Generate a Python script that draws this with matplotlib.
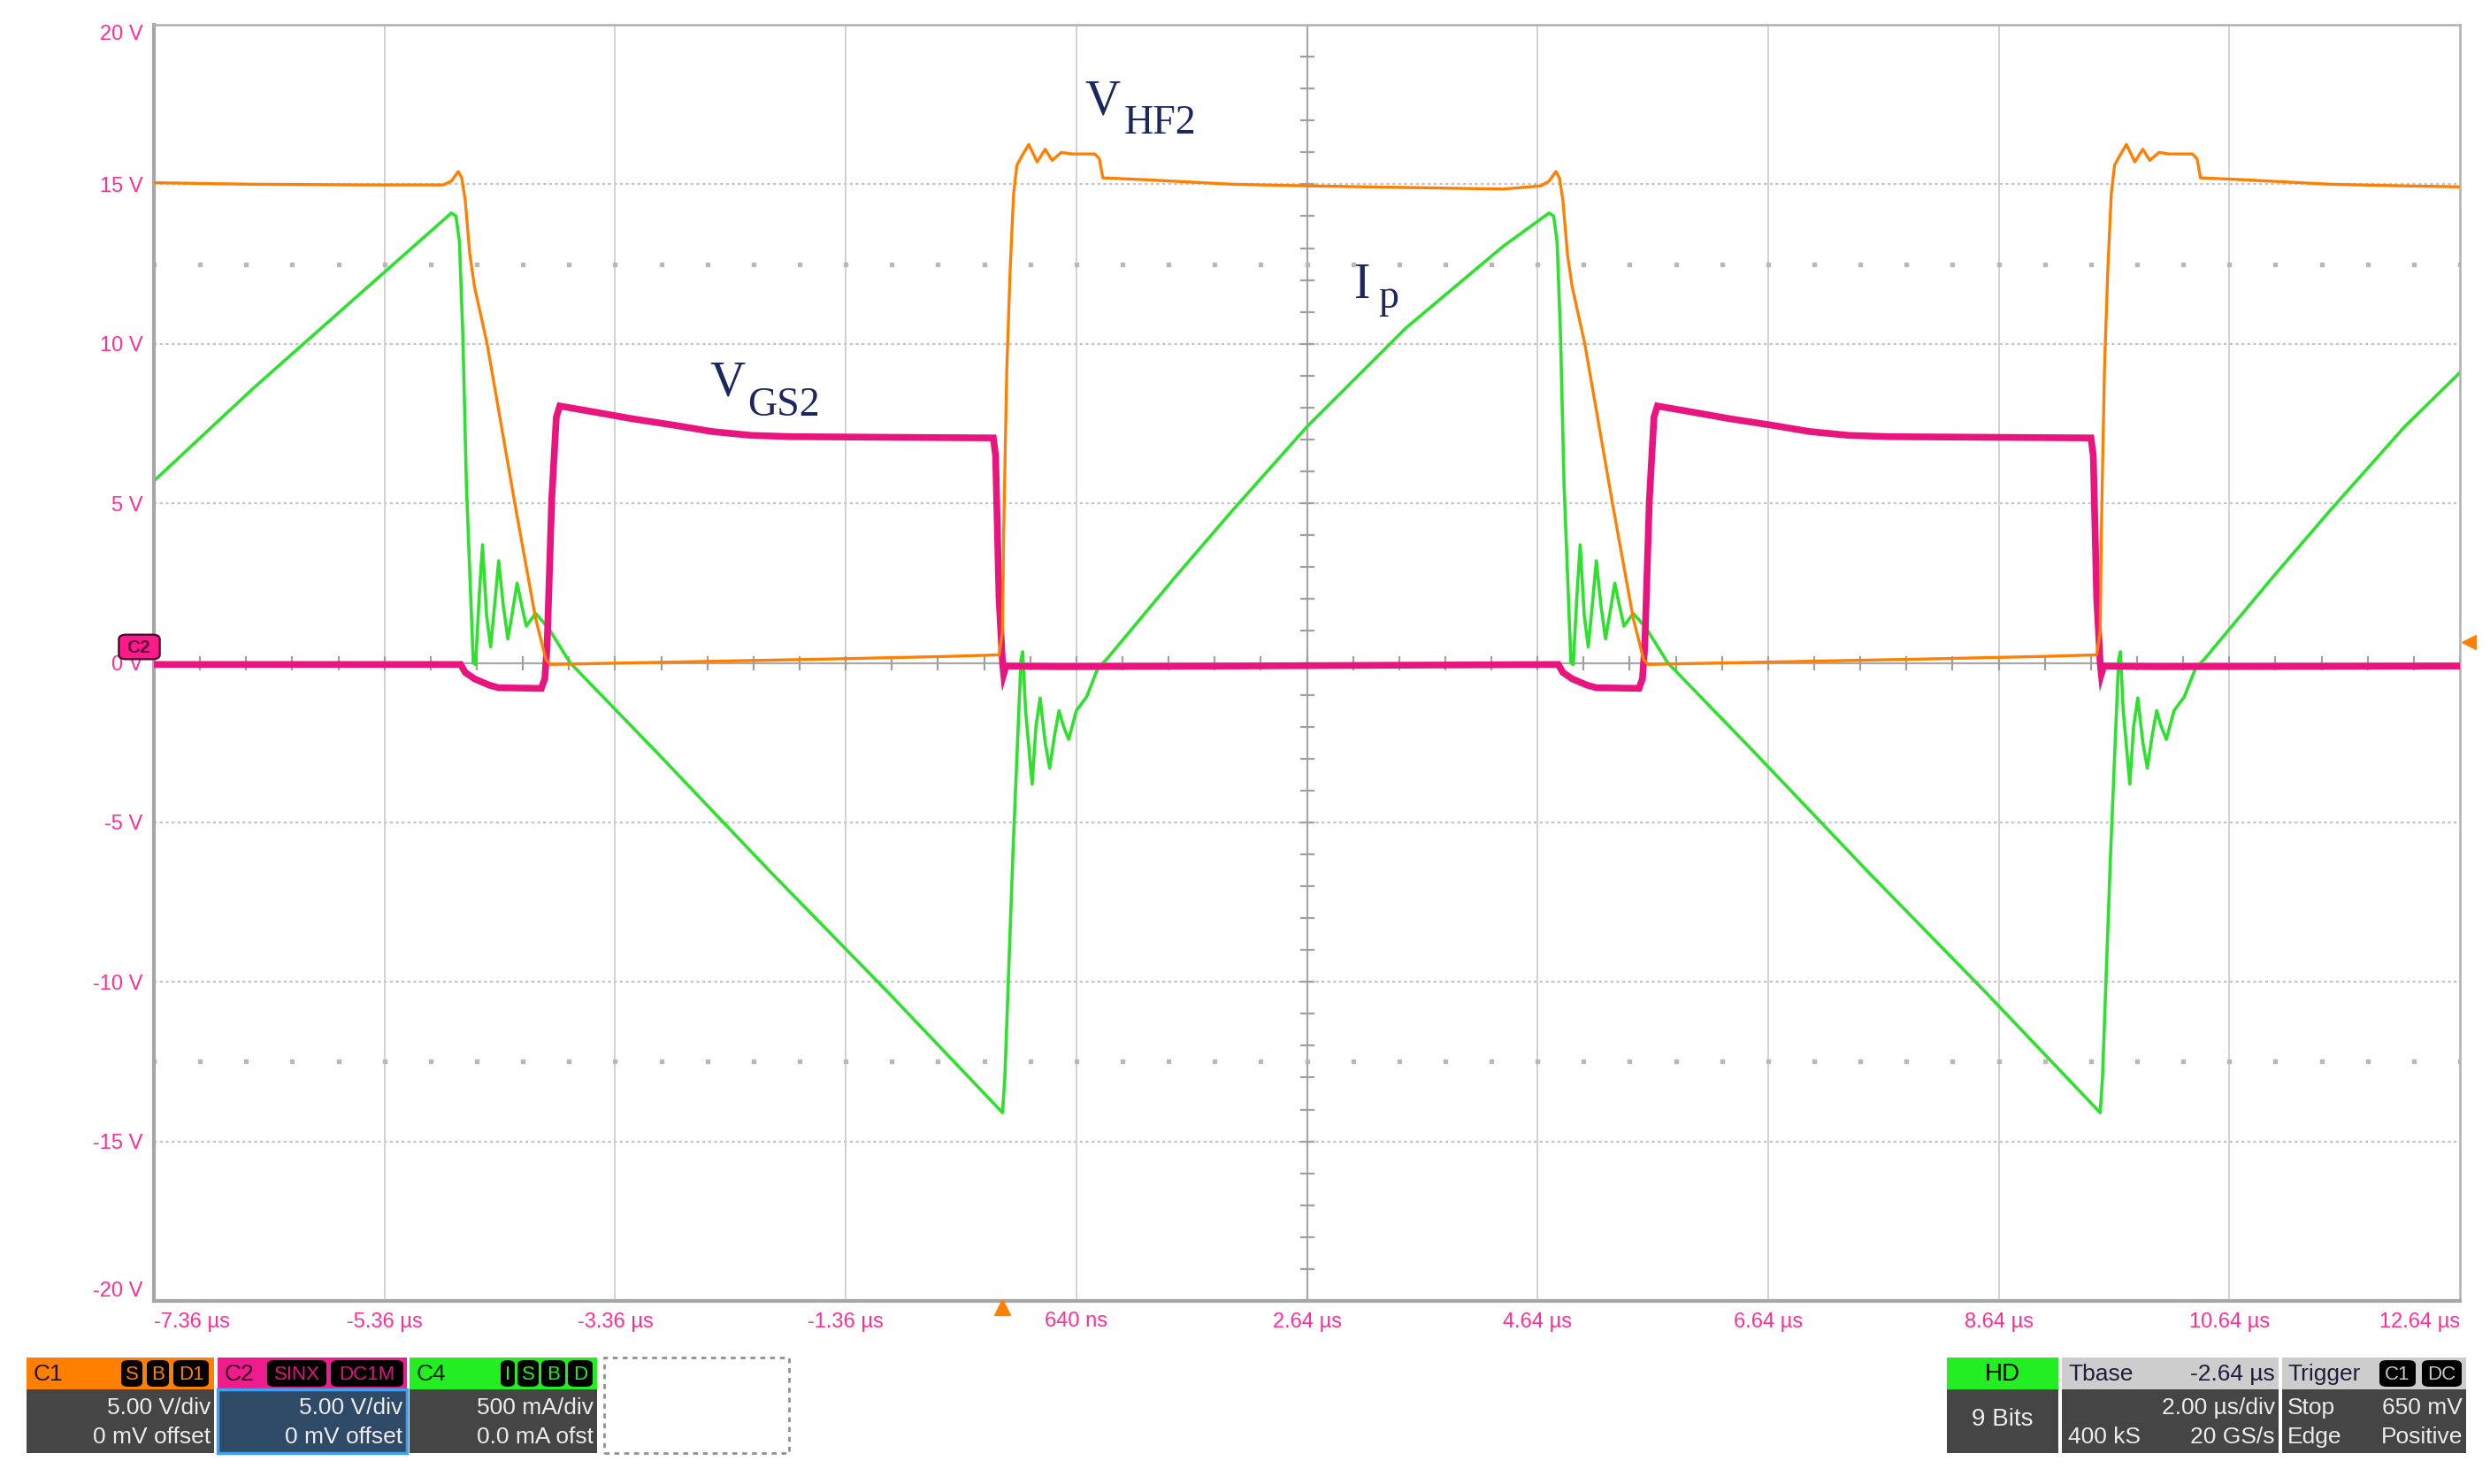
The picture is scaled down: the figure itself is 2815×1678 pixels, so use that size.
import numpy as np
import matplotlib
matplotlib.use('Agg')
import matplotlib.pyplot as plt
from matplotlib.patches import Rectangle, FancyBboxPatch

# --- data (time in us, value in screen volts) ---
x_ticks = [-7.36, -5.36, -3.36, -1.36, 0.64, 2.64, 4.64, 6.64, 8.64, 10.64, 12.64]
x_tick_labels = ['-7.36 µs', '-5.36 µs', '-3.36 µs', '-1.36 µs', '640 ns', '2.64 µs',
                 '4.64 µs', '6.64 µs', '8.64 µs', '10.64 µs', '12.64 µs']
y_ticks = [-20, -15, -10, -5, 0, 5, 10, 15, 20]
y_tick_labels = ['-20 V', '-15 V', '-10 V', '-5 V', '0 V', '5 V', '10 V', '15 V', '20 V']

# C1 - V_HF2 (orange)
hf2_t = [-7.36, -6.5, -5.5, -4.85, -4.78, -4.72, -4.69, -4.66, -4.62, -4.58, -4.47, -4.23, -4.05, -3.96,
         -3.92, -3.5, -2.5, -1.5, -0.5, -0.03, 0.0, 0.01, 0.037, 0.066, 0.096, 0.125, 0.17, 0.228, 0.30,
         0.37, 0.43, 0.51, 0.6, 0.80, 0.84, 0.87, 1.2, 2.0, 2.64, 3.5, 4.34, 4.67,
         4.74, 4.80, 4.83, 4.86, 4.90, 4.94, 5.05, 5.29, 5.47, 5.56, 5.60, 6.0, 7.0, 8.0, 9.0, 9.49,
         9.52, 9.53, 9.557, 9.586, 9.616, 9.645, 9.69, 9.748, 9.82, 9.89, 9.95, 10.03, 10.12, 10.32,
         10.36, 10.39, 10.72, 11.52, 12.16, 12.64]
hf2_v = [15.05, 15.0, 14.98, 14.98, 15.1, 15.4, 15.2, 14.5, 12.8, 11.8, 10.0, 5.0, 1.4, 0.1,
         -0.05, -0.02, 0.05, 0.12, 0.2, 0.25, 1.0, 4.1, 9.2, 12.3, 14.7, 15.6, 15.9, 16.25, 15.7,
         16.1, 15.75, 16.0, 15.95, 15.95, 15.8, 15.2, 15.15, 15.0, 14.95, 14.9, 14.85, 14.95,
         15.1, 15.4, 15.2, 14.5, 12.8, 11.8, 10.0, 5.0, 1.4, 0.1, -0.05, -0.02, 0.05, 0.12, 0.2, 0.25,
         1.0, 4.1, 9.2, 12.3, 14.7, 15.6, 15.9, 16.25, 15.7, 16.1, 15.75, 16.0, 15.95, 15.95,
         15.8, 15.2, 15.15, 15.0, 14.95, 14.92]

# C2 - V_GS2 (magenta)
gs2_t = [-7.36, -4.70, -4.66, -4.58, -4.45, -4.37, -4.0, -3.97, -3.95, -3.91, -3.87, -3.84, -3.6,
         -3.21, -2.85, -2.52, -2.18, -1.83, -1.0, -0.08, -0.06, -0.03, 0.0, 0.01, 0.03, 0.5, 2.0, 4.82,
         4.86, 4.94, 5.07, 5.15, 5.52, 5.55, 5.57, 5.61, 5.65, 5.68, 5.92, 6.31, 6.67, 7.0, 7.34,
         7.69, 8.52, 9.44, 9.46, 9.49, 9.52, 9.53, 9.55, 10.0, 12.64]
gs2_v = [-0.05, -0.05, -0.3, -0.5, -0.7, -0.78, -0.8, -0.5, 0.5, 5.1, 7.7, 8.05, 7.9,
         7.65, 7.45, 7.25, 7.13, 7.09, 7.07, 7.05, 6.5, 2.0, 0.0, -0.35, -0.1, -0.12, -0.1, -0.05,
         -0.3, -0.5, -0.7, -0.78, -0.8, -0.5, 0.5, 5.1, 7.7, 8.05, 7.9, 7.65, 7.45, 7.25, 7.13,
         7.09, 7.07, 7.05, 6.5, 2.0, 0.0, -0.35, -0.1, -0.12, -0.1]

# C4 - I_p (green, 500 mA/div)
ip_t = [-7.36, -6.5, -5.5, -4.78, -4.74, -4.71, -4.68, -4.65, -4.62, -4.59, -4.57, -4.54, -4.51,
        -4.475, -4.44, -4.40, -4.37, -4.33, -4.29, -4.25, -4.21, -4.17, -4.13, -4.05, -3.94, -3.75,
        -3.0, -2.0, -1.0, 0.0, 0.02, 0.05, 0.09, 0.13, 0.16, 0.175, 0.20, 0.257, 0.29, 0.326, 0.37,
        0.409, 0.45, 0.49, 0.53, 0.574, 0.64, 0.73, 0.83, 0.9, 1.5, 2.0, 2.64, 3.5, 4.34, 4.74,
        4.78, 4.81, 4.84, 4.87, 4.90, 4.93, 4.95, 4.98, 5.01, 5.045, 5.08, 5.12, 5.15, 5.19, 5.23,
        5.27, 5.31, 5.35, 5.39, 5.47, 5.58, 5.77, 6.52, 7.52, 8.52, 9.52, 9.54, 9.57, 9.61, 9.65,
        9.68, 9.695, 9.72, 9.777, 9.81, 9.846, 9.89, 9.929, 9.97, 10.01, 10.05, 10.094, 10.16,
        10.25, 10.35, 10.42, 11.02, 11.52, 12.16, 12.64]
ip_v = [5.7, 8.6, 11.8, 14.1, 14.0, 13.2, 10.2, 5.6, 2.8, 0.0, -0.05, 2.0, 3.7,
        1.5, 0.5, 2.0, 3.2, 1.8, 0.75, 1.6, 2.5, 1.8, 1.15, 1.55, 1.1, 0.0,
        -2.8, -6.6, -10.3, -14.1, -13.0, -10.0, -6.0, -2.5, 0.1, 0.35, -1.5, -3.8, -2.0, -1.1, -2.5,
        -3.3, -2.3, -1.5, -2.0, -2.4, -1.5, -1.06, -0.14, 0.1, 2.7, 4.8, 7.4, 10.5, 13.05, 14.1,
        14.0, 13.2, 10.2, 5.6, 2.8, 0.0, -0.05, 2.0, 3.7, 1.5, 0.5, 2.0, 3.2, 1.8, 0.75,
        1.6, 2.5, 1.8, 1.15, 1.55, 1.1, 0.0, -2.8, -6.6, -10.3, -14.1, -13.0, -10.0, -6.0, -2.5,
        0.1, 0.35, -1.5, -3.8, -2.0, -1.1, -2.5, -3.3, -2.3, -1.5, -2.0, -2.4, -1.5,
        -1.06, -0.14, 0.1, 2.7, 4.8, 7.4, 9.1]

trigger_t = 0.0
trigger_level = 0.65

ORANGE = '#ff8000'
MAGENTA = '#e8157f'
GREEN = '#2fe02f'
PINK = '#ff2e97'
NAVY = '#1c2760'

W, H = 2815, 1678
fig = plt.figure(figsize=(W / 100, H / 100), dpi=100)
fig.patch.set_facecolor('white')


def fx(px):
    return px / W


def fy(py):
    return 1 - py / H


ax = fig.add_axes([fx(174), fy(1471), (2781 - 174) / W, (1471 - 28) / H])
ax.set_xlim(-7.36, 12.64)
ax.set_ylim(-20, 20)

# graticule
for yv in y_ticks[1:-1]:
    if yv == 0:
        continue
    ax.axhline(yv, color='#c4c4c4', lw=1.6, ls=(0, (1.5, 1.5)), zorder=0)
for xv in x_ticks[1:-1]:
    if xv == 2.64:
        continue
    ax.axvline(xv, color='#cfcfcf', lw=1.3, zorder=0)
ax.axhline(0, color='#a8a8a8', lw=1.6, zorder=0)
ax.axvline(2.64, color='#a8a8a8', lw=1.6, zorder=0)
minor_x = np.arange(-7.36, 12.65, 0.4)
minor_y = np.arange(-20, 20.1, 1.0)
ax.plot(np.full_like(minor_y, 2.64), minor_y, ls='none', marker='_', ms=12, mew=1.6, color='#a0a0a0', zorder=0)
ax.plot(minor_x, np.zeros_like(minor_x), ls='none', marker='|', ms=12, mew=1.6, color='#a0a0a0', zorder=0)
for yv in (12.5, -12.5):
    ax.plot(minor_x, np.full_like(minor_x, yv), ls='none', marker='s', ms=2.2, color='#b8b8b8', zorder=0)

# traces
ax.plot(ip_t, ip_v, color=GREEN, lw=2.6, zorder=2)
ax.plot(gs2_t, gs2_v, color=MAGENTA, lw=5.5, zorder=3, solid_joinstyle='miter')
ax.plot(hf2_t, hf2_v, color=ORANGE, lw=2.4, zorder=4)

# axes frame
for side in ['left', 'bottom']:
    ax.spines[side].set_color('#a6a6a6')
    ax.spines[side].set_linewidth(3)
for side in ['top', 'right']:
    ax.spines[side].set_color('#b0b0b0')
    ax.spines[side].set_linewidth(1.8)

ax.set_xticks(x_ticks)
ax.set_xticklabels(x_tick_labels)
ax.set_yticks(y_ticks)
ax.set_yticklabels(y_tick_labels)
ax.tick_params(length=0, colors=PINK, labelsize=17, pad=9)
for lab in ax.get_xticklabels() + ax.get_yticklabels():
    lab.set_family('Liberation Sans')
    lab.set_color(PINK)
xlabs = ax.get_xticklabels()
xlabs[0].set_ha('left')
xlabs[-1].set_ha('right')
ylabs = ax.get_yticklabels()
ylabs[0].set_va('bottom')
ylabs[-1].set_va('top')

# trigger markers
ax.plot([trigger_t], [-20.2], marker='^', ms=13, color=ORANGE, clip_on=False, zorder=6)
ax.plot([12.72], [trigger_level], marker='<', ms=11, color=ORANGE, clip_on=False, zorder=6)

# channel 2 ground marker
fig.add_artist(FancyBboxPatch((fx(140), fy(742)), 35 / W, 21 / H, boxstyle='round,pad=0.002,rounding_size=0.003',
                              transform=fig.transFigure, fc='#ff1a8c', ec='#4a0028', lw=1.6, zorder=10))
fig.text(fx(157), fy(732), 'C2', ha='center', va='center', fontsize=15, fontweight='bold',
         color='#5a0a34', family='Liberation Sans', zorder=11)

# trace annotations
serif = 'Liberation Serif'
fig.text(fx(1226), fy(129), 'V', fontsize=40, color=NAVY, family=serif, va='baseline')
fig.text(fx(1271), fy(151), 'HF2', fontsize=33, color=NAVY, family=serif, va='baseline')
fig.text(fx(802), fy(448), 'V', fontsize=40, color=NAVY, family=serif, va='baseline')
fig.text(fx(845), fy(470), 'GS2', fontsize=33, color=NAVY, family=serif, va='baseline')
fig.text(fx(1531), fy(337), 'I', fontsize=40, color=NAVY, family=serif, va='baseline')
fig.text(fx(1558), fy(348), 'p', fontsize=33, color=NAVY, family=serif, va='baseline')


# --- status boxes along the bottom ---
def rect(x0, y0, x1, y1, fc, ec='none', lw=0, ls='-'):
    fig.add_artist(Rectangle((fx(x0), fy(y1)), (x1 - x0) / W, (y1 - y0) / H, transform=fig.transFigure,
                             fc=fc, ec=ec, lw=lw, ls=ls, zorder=5))


def badge(x0, x1, text, tcolor, y0=1538, y1=1568):
    fig.add_artist(FancyBboxPatch((fx(x0), fy(y1)), (x1 - x0) / W, (y1 - y0) / H,
                                  boxstyle='round,pad=0,rounding_size=0.003', transform=fig.transFigure,
                                  fc='black', ec='none', zorder=6))
    fig.text(fx((x0 + x1) / 2), fy((y0 + y1) / 2 + 1), text, ha='center', va='center', fontsize=16,
             color=tcolor, family='Liberation Sans', zorder=7)


def txt(x, y, s, ha='right', color='#ececec', size=19):
    fig.text(fx(x), fy(y), s, ha=ha, va='center', fontsize=size, color=color, family='Liberation Sans', zorder=7)


HEAD0, HEAD1, BOT = 1535, 1571, 1643
# C1
rect(30, HEAD0, 242, HEAD1, ORANGE)
rect(30, HEAD1, 242, BOT, '#454545')
txt(38, 1554, 'C1', ha='left', color='#2a1400', size=19)
badge(137, 161, 'S', ORANGE)
badge(166, 191, 'B', ORANGE)
badge(196, 236, 'D1', ORANGE)
txt(238, 1592, '5.00 V/div')
txt(238, 1625, '0 mV offset')
# C2
rect(246, HEAD0, 460, HEAD1, '#ee1c8c')
rect(246, HEAD1, 460, BOT, '#2f4a66', ec='#3ea2f0', lw=2.5)
txt(254, 1554, 'C2', ha='left', color='#3a0020', size=19)
badge(302, 369, 'SINX', '#e0157f')
badge(374, 456, 'DC1M', '#e0157f')
txt(455, 1592, '5.00 V/div')
txt(455, 1625, '0 mV offset')
# C4
rect(463, HEAD0, 675, HEAD1, '#22ee22')
rect(463, HEAD1, 675, BOT, '#454545')
txt(471, 1554, 'C4', ha='left', color='#062a06', size=19)
badge(566, 582, 'I', '#22ee22')
badge(585, 609, 'S', '#22ee22')
badge(612, 639, 'B', '#22ee22')
badge(642, 670, 'D', '#22ee22')
txt(671, 1592, '500 mA/div')
txt(671, 1625, '0.0 mA ofst')
# empty slot
rect(683, HEAD0, 892, BOT, 'white', ec='#909090', lw=2, ls=(0, (2, 2)))

# HD
rect(2201, HEAD0, 2327, HEAD1, '#22ee22')
rect(2201, HEAD1, 2327, BOT, '#454545')
txt(2264, 1554, 'HD', ha='center', color='black', size=20)
txt(2264, 1605, '9 Bits', ha='center', size=20)
# Tbase
rect(2331, HEAD0, 2576, HEAD1, '#cdcdcd')
rect(2331, HEAD1, 2576, BOT, '#454545')
txt(2338, 1554, 'Tbase', ha='left', color='#1e1e3c')
txt(2572, 1554, '-2.64 µs', color='#1e1e3c')
txt(2572, 1592, '2.00 µs/div')
txt(2338, 1625, '400 kS', ha='left')
txt(2572, 1625, '20 GS/s')
# Trigger
rect(2580, HEAD0, 2788, HEAD1, '#cdcdcd')
rect(2580, HEAD1, 2788, BOT, '#454545')
txt(2586, 1554, 'Trigger', ha='left', color='#1e1e3c')
badge(2690, 2731, 'C1', '#c8c8c8')
badge(2738, 2783, 'DC', '#c8c8c8')
txt(2586, 1592, 'Stop', ha='left')
txt(2784, 1592, '650 mV')
txt(2586, 1625, 'Edge', ha='left')
txt(2784, 1625, 'Positive')

fig.savefig('out.png', dpi=100)
